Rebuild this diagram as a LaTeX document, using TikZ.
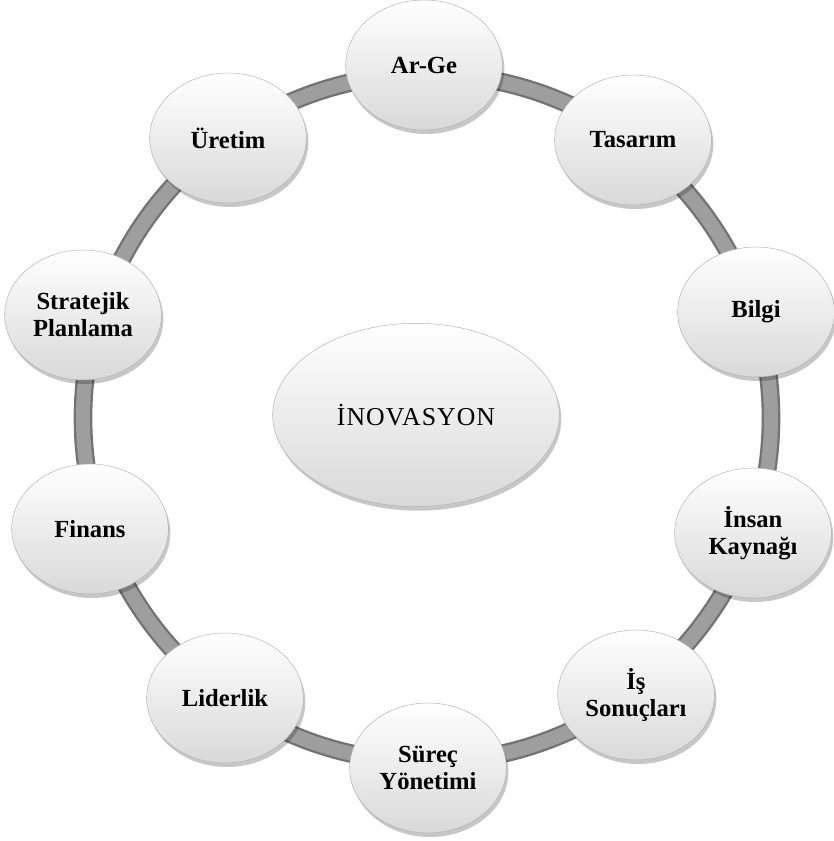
\documentclass[tikz,border=0pt]{standalone}
\usepackage{fontspec}
\setmainfont{Liberation Serif}
\usetikzlibrary{shapes.geometric, shadows}

\tikzset{
  bubble/.style={ellipse, minimum width=47mm, minimum height=39mm, inner sep=0pt, align=center,
    font=\bfseries\fontsize{21}{23}\selectfont,
    top color=white, middle color=white, bottom color=black!15, draw=black!30, line width=0.4pt,
    drop shadow={shadow xshift=0.6mm, shadow yshift=-1.2mm, opacity=0.22, fill=black}},
  hub/.style={bubble, minimum width=86mm, minimum height=55mm, font=\fontsize{22}{24}\selectfont\addfontfeature{LetterSpace=4}},
  ringouter/.style={line width=5.6mm, black!55},
  ringinner/.style={line width=4.2mm, black!38}
}

\begin{document}
\begin{tikzpicture}[x=0.3mm, y=0.3mm]
  \useasboundingbox (0,0) rectangle (834,841);
  % ring behind the bubbles
  \coordinate (rc) at (427,423);
  \draw[ringouter] (rc) circle (344);
  \draw[ringinner] (rc) circle (344);
  % bubbles
  \node[bubble] (arge) at (424,776) {Ar-Ge};
  \node[bubble] (tasarim) at (633,701) {Tasarım};
  \node[bubble] (bilgi) at (756,529) {Bilgi};
  \node[bubble] (insan) at (753,308) {İnsan\\Kaynağı};
  \node[bubble] (is) at (636,146) {İş\\Sonuçları};
  \node[bubble] (surec) at (428,73) {Süreç\\Yönetimi};
  \node[bubble] (liderlik) at (225,143) {Liderlik};
  \node[bubble] (finans) at (90,312) {Finans};
  \node[bubble] (strateji) at (83,526) {Stratejik\\Planlama};
  \node[bubble] (uretim) at (228,703) {Üretim};
  % center
  \node[hub] (inovasyon) at (416,426) {İNOVASYON};
\end{tikzpicture}
\end{document}
